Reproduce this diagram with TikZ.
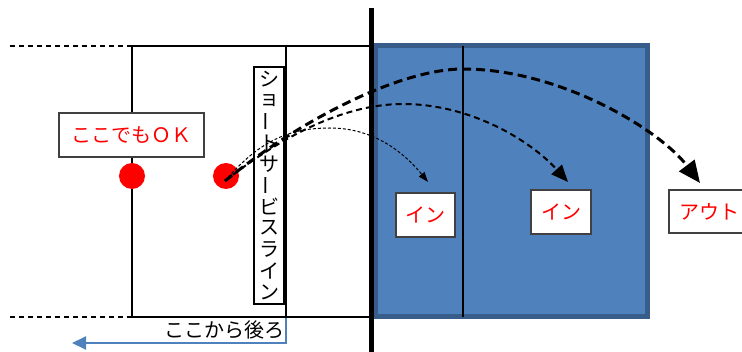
\documentclass[tikz,border=0pt]{standalone}
\usepackage{fontspec}
\setmainfont{Noto Sans CJK JP}
\usepackage{xcolor}
\usepackage{graphicx}
\usepackage{tikz}
\usetikzlibrary{arrows.meta}
\definecolor{courtblue}{HTML}{4F81BD}
\definecolor{courtedge}{HTML}{385D8A}
\tikzset{
	jfont/.style={font=\fontsize{20}{22}\selectfont},
	tag/.style={jfont, draw=black!75, line width=1.3pt, fill=white, text=red, inner sep=0pt},
	reddot/.style={circle, fill=red, minimum size=26pt, inner sep=0pt},
	court/.style={line width=1.3pt},
}

\begin{document}
\begin{tikzpicture}[x=1pt,y=-1pt]
\clip (0,0) rectangle (742,352);

\draw[fill=courtblue, draw=courtedge, line width=5pt] (375.5,45.5) rectangle (647.5,316.5);
\draw[court] (463,46)--(463,317);

\draw[court] (370,46)--(132,46)--(132,317)--(370,317);
\draw[court] (286,46)--(286,317);
\draw[court, dash pattern=on 5pt off 4pt] (10,46)--(132,46);
\draw[court, dash pattern=on 5pt off 4pt] (10,317)--(132,317);

\node[tag, minimum width=145pt, minimum height=44pt] (ok) at (131.5,135) {ここでもＯＫ};
\node[reddot] (dotA) at (132,176) {};
\node[reddot] (dotB) at (226,176) {};

\node[draw, line width=1.3pt, fill=white, minimum width=30pt, minimum height=237pt] (ssl) at (269,185.5) {};
\foreach \ch [count=\i from 0] in {シ,ョ,{\rotatebox[origin=c]{90}{ー}},ト,サ,{\rotatebox[origin=c]{90}{ー}},ビ,ス,ラ,イ,ン}{
	\node[jfont, inner sep=0pt] (ch\i) at (269,79+21.3*\i) {\ch};
}

\draw[line width=5pt] (371,8)--(371,352);

\node[tag, minimum width=59pt, minimum height=44pt] (in1) at (425.5,215) {イン};
\node[tag, minimum width=60pt, minimum height=44pt] (in2) at (561,212) {イン};
\node[tag, minimum width=80pt, minimum height=43pt] (out) at (709,211.5) {アウト};

\coordinate (launch) at (225,181);
\coordinate (tipA) at (428,182);
\coordinate (tipB) at (568,182);
\coordinate (tipC) at (700,183);

\draw[line width=1pt, dash pattern=on 3pt off 2pt, -{Triangle[length=10pt,width=7pt]}]
	(launch) .. controls (260,140) and (290,128) .. (330,128)
	.. controls (380,128) and (410,160) .. (tipA);
\draw[line width=2pt, dash pattern=on 6pt off 4pt, -{Triangle[length=17pt,width=14pt]}]
	(launch) .. controls (290,130) and (350,104) .. (403,104)
	.. controls (470,104) and (530,140) .. (tipB);
\draw[line width=3pt, dash pattern=on 9pt off 5pt, -{Triangle[length=22pt,width=19pt]}]
	(launch) .. controls (300,120) and (400,69) .. (463,69)
	.. controls (560,69) and (660,130) .. (tipC);

\coordinate (back0) at (286,318);
\coordinate (back1) at (286,343);
\coordinate (back2) at (72,343);
\draw[courtblue, line width=2pt, -{Triangle[length=14pt,width=13pt]}] (back0)--(back1)--(back2);
\node[jfont, inner sep=0pt, anchor=east] (behind) at (285,330) {ここから後ろ};
\end{tikzpicture}
\end{document}
